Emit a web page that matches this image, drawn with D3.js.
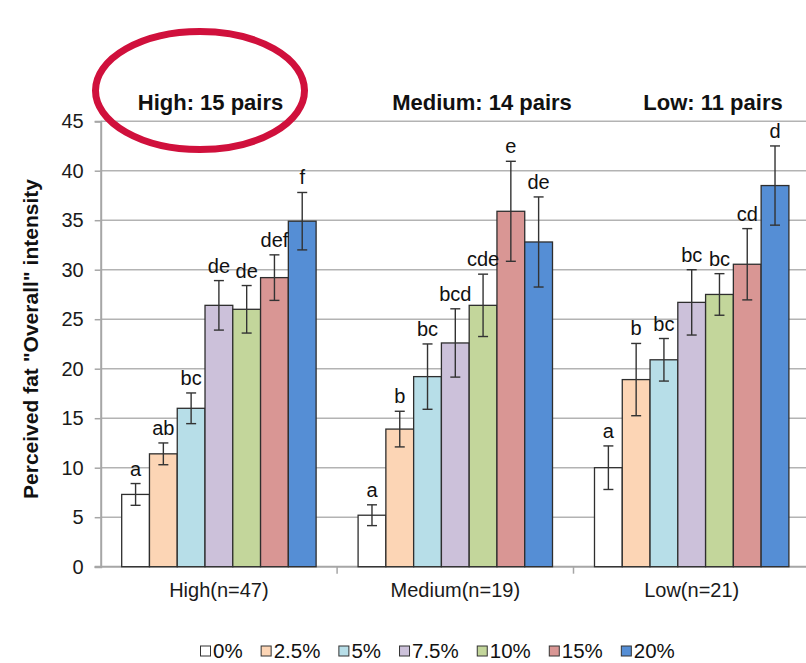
<!DOCTYPE html>
<html>
<head>
<meta charset="utf-8">
<script src="https://cdn.jsdelivr.net/npm/d3@7"></script>
<style>
  html, body { margin: 0; padding: 0; background: #fff; }
  svg { display: block; font-family: Arial, "Liberation Sans", sans-serif; }
</style>
</head>
<body>
<svg id="chart" width="806" height="663"></svg>
<script>
// Fat-level groups and added-fat concentrations
const groups = ["High(n=47)", "Medium(n=19)", "Low(n=21)"];
const panelTitles = ["High: 15 pairs", "Medium: 14 pairs", "Low: 11 pairs"];
const levels = ["0%", "2.5%", "5%", "7.5%", "10%", "15%", "20%"];
const levelColors = ["#ffffff", "#fcd5b5", "#b7dee8", "#ccc1da", "#c3d69b", "#d99694", "#558ed5"];

// Mean perceived "Overall" fat intensity, its error, and significance letters
const meansHigh = [7.3, 11.4, 16.0, 26.4, 26.0, 29.2, 34.9];
const errHigh = [1.1, 1.1, 1.55, 2.5, 2.4, 2.3, 2.9];
const lettersHigh = ["a", "ab", "bc", "de", "de", "def", "f"];

const meansMedium = [5.2, 13.9, 19.2, 22.6, 26.4, 35.9, 32.8];
const errMedium = [1.05, 1.8, 3.3, 3.45, 3.15, 5.05, 4.55];
const lettersMedium = ["a", "b", "bc", "bcd", "cde", "e", "de"];

const meansLow = [10.0, 18.9, 20.9, 26.7, 27.5, 30.55, 38.5];
const errLow = [2.2, 3.65, 2.15, 3.3, 2.1, 3.6, 4.0];
const lettersLow = ["a", "b", "bc", "bc", "bc", "cd", "d"];

const yTicks = [0, 5, 10, 15, 20, 25, 30, 35, 40, 45];

const seriesByGroup = [
  { means: meansHigh, err: errHigh, letters: lettersHigh },
  { means: meansMedium, err: errMedium, letters: lettersMedium },
  { means: meansLow, err: errLow, letters: lettersLow }
];

const rows = [];
groups.forEach((g, gi) => {
  levels.forEach((lv, li) => {
    rows.push({
      group: g, level: lv, li,
      mean: seriesByGroup[gi].means[li],
      err: seriesByGroup[gi].err[li],
      letter: seriesByGroup[gi].letters[li]
    });
  });
});

const svg = d3.select("#chart");
const plot = { left: 100.7, right: 809.9, top: 121.2, bottom: 566.7 };

const y = d3.scaleLinear().domain([0, 45]).range([plot.bottom, plot.top]);
const x0 = d3.scaleBand().domain(groups).range([plot.left, plot.right]).padding(0);
const x1 = d3.scaleBand().domain(levels).range([0, x0.bandwidth()])
  .paddingInner(0).paddingOuter(0.756);
const color = d3.scaleOrdinal().domain(levels).range(levelColors);

// Horizontal gridlines
svg.append("g")
  .selectAll("line")
  .data(yTicks.filter(t => t > 0))
  .join("line")
  .attr("x1", plot.left).attr("x2", 806)
  .attr("y1", d => y(d)).attr("y2", d => y(d))
  .attr("stroke", "#b3b3b3").attr("stroke-width", 1.5);

// Y axis
const yAxis = svg.append("g")
  .attr("transform", `translate(${plot.left},0)`)
  .call(d3.axisLeft(y).tickValues(yTicks).tickSize(6).tickPadding(11));
yAxis.select(".domain").attr("stroke", "#a6a6a6").attr("stroke-width", 2);
yAxis.selectAll(".tick line").attr("stroke", "#a6a6a6").attr("stroke-width", 1.5);
yAxis.selectAll(".tick text")
  .attr("font-size", 20).attr("fill", "#1a1a1a")
  .attr("font-family", "Arial, 'Liberation Sans', sans-serif");

// X axis with category separators
const xAxis = svg.append("g")
  .attr("transform", `translate(0,${plot.bottom})`)
  .call(d3.axisBottom(x0).tickSize(0).tickPadding(16));
xAxis.select(".domain").remove();
xAxis.selectAll(".tick text")
  .attr("font-size", 20).attr("fill", "#1a1a1a")
  .attr("font-family", "Arial, 'Liberation Sans', sans-serif");
svg.append("line")
  .attr("x1", plot.left - 6).attr("x2", 806)
  .attr("y1", plot.bottom).attr("y2", plot.bottom)
  .attr("stroke", "#a6a6a6").attr("stroke-width", 2);
svg.append("g")
  .selectAll("line")
  .data(groups.slice(1))
  .join("line")
  .attr("x1", d => x0(d)).attr("x2", d => x0(d))
  .attr("y1", plot.bottom).attr("y2", plot.bottom + 7)
  .attr("stroke", "#a6a6a6").attr("stroke-width", 1.5);

// Bars
const barX = d => x0(d.group) + x1(d.level);
svg.append("g")
  .selectAll("rect")
  .data(rows)
  .join("rect")
  .attr("x", barX)
  .attr("y", d => y(d.mean))
  .attr("width", x1.bandwidth())
  .attr("height", d => y(0) - y(d.mean))
  .attr("fill", d => color(d.level))
  .attr("stroke", "#2e2e2e").attr("stroke-width", 1.3);

// Error bars
const cx = d => barX(d) + x1.bandwidth() / 2;
const eb = svg.append("g").attr("stroke", "#333").attr("stroke-width", 1.4);
eb.selectAll("line.v").data(rows).join("line").attr("class", "v")
  .attr("x1", cx).attr("x2", cx)
  .attr("y1", d => y(d.mean + d.err)).attr("y2", d => y(d.mean - d.err));
eb.selectAll("line.t").data(rows).join("line").attr("class", "t")
  .attr("x1", d => cx(d) - 5).attr("x2", d => cx(d) + 5)
  .attr("y1", d => y(d.mean + d.err)).attr("y2", d => y(d.mean + d.err));
eb.selectAll("line.b").data(rows).join("line").attr("class", "b")
  .attr("x1", d => cx(d) - 5).attr("x2", d => cx(d) + 5)
  .attr("y1", d => y(d.mean - d.err)).attr("y2", d => y(d.mean - d.err));

// Significance letters
svg.append("g")
  .selectAll("text")
  .data(rows)
  .join("text")
  .attr("x", cx)
  .attr("y", d => y(d.mean + d.err) - 8)
  .attr("text-anchor", "middle")
  .attr("font-size", 20).attr("fill", "#111")
  .text(d => d.letter);

// Y axis title
svg.append("text")
  .attr("transform", `translate(38,339) rotate(-90)`)
  .attr("text-anchor", "middle")
  .attr("font-size", 21).attr("font-weight", "bold").attr("fill", "#111")
  .text('Perceived fat "Overall" intensity');

// Panel titles above each group
const titleX = [210.5, 482, 713];
svg.append("g")
  .selectAll("text")
  .data(panelTitles)
  .join("text")
  .attr("x", (d, i) => titleX[i])
  .attr("y", 110)
  .attr("text-anchor", "middle")
  .attr("font-size", 22).attr("font-weight", "bold").attr("fill", "#111")
  .text(d => d);

// Highlight ring around the first title
svg.append("ellipse")
  .attr("cx", 200).attr("cy", 90.5)
  .attr("rx", 104.5).attr("ry", 59)
  .attr("fill", "none")
  .attr("stroke", "#d0103c").attr("stroke-width", 7);

// Legend
const legend = svg.append("g").attr("transform", "translate(0,651)");
const legendFont = 20.5;
let lx = 200;
levels.forEach((lv, i) => {
  const item = legend.append("g").attr("transform", `translate(${lx},0)`);
  item.append("rect")
    .attr("x", 0.5).attr("y", -5).attr("width", 10).attr("height", 10)
    .attr("fill", color(lv)).attr("stroke", "#333").attr("stroke-width", 1);
  const t = item.append("text")
    .attr("x", 13).attr("y", 7)
    .attr("font-size", legendFont).attr("fill", "#111")
    .text(lv);
  lx += 13 + t.node().getComputedTextLength() + 18;
});
</script>
</body>
</html>
